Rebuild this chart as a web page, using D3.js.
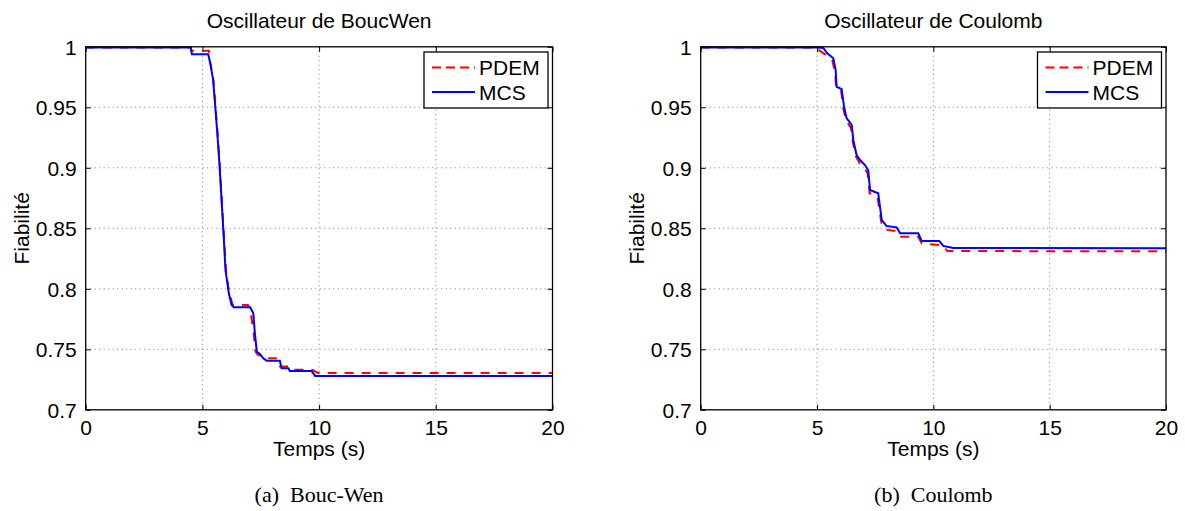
<!DOCTYPE html>
<html>
<head>
<meta charset="utf-8">
<script src="https://cdn.jsdelivr.net/npm/d3@7"></script>
<style>
  html, body { margin: 0; padding: 0; background: #fff; }
  svg { display: block; }
  text { font-family: "Liberation Sans", Arial, sans-serif; fill: #000; }
  .caption { font-family: "Liberation Serif", "Times New Roman", serif; }
</style>
</head>
<body>
<svg id="chart" width="1185" height="511"></svg>
<script>
// ---------------- data ----------------
const xTicks = [0, 5, 10, 15, 20];
const yTicks = [0.7, 0.75, 0.8, 0.85, 0.9, 0.95, 1];
const yTickLabels = ["0.7", "0.75", "0.8", "0.85", "0.9", "0.95", "1"];
const seriesNames = ["PDEM", "MCS"];
const panelTitles = ["Oscillateur de BoucWen", "Oscillateur de Coulomb"];
const panelCaptions = ["(a)\u2002Bouc-Wen", "(b)\u2002Coulomb"];
const xLabel = "Temps (s)";
const yLabel = "Fiabilité";

// Bouc-Wen : MCS
const bwMcsT = [0, 4.50, 4.55, 5.25, 5.35, 5.46, 5.63, 5.72, 5.89, 5.99, 6.13, 6.25, 6.35, 7.05, 7.18, 7.25, 7.33, 7.47, 7.61, 7.75, 8.32, 8.39, 8.68, 8.75, 9.68, 9.83, 20];
const bwMcsR = [0.9995, 0.9995, 0.9938, 0.9938, 0.985, 0.9726, 0.931, 0.9064, 0.851, 0.8155, 0.7965, 0.7866, 0.7847, 0.7847, 0.7797, 0.763, 0.748, 0.7461, 0.7426, 0.7406, 0.7406, 0.7343, 0.7343, 0.732, 0.732, 0.728, 0.728];
// Bouc-Wen : PDEM
const bwPdemT = [0, 4.50, 4.53, 5.28, 5.33, 5.47, 5.64, 5.73, 5.90, 6.01, 6.15, 6.30, 6.45, 6.95, 7.05, 7.20, 7.28, 7.35, 7.50, 7.72, 8.20, 8.33, 8.70, 8.80, 9.70, 9.95, 20];
const bwPdemR = [0.9995, 0.9995, 0.9967, 0.9967, 0.988, 0.9726, 0.931, 0.9064, 0.851, 0.8155, 0.7965, 0.7866, 0.7866, 0.7866, 0.7830, 0.763, 0.748, 0.746, 0.7445, 0.7426, 0.7426, 0.7357, 0.7357, 0.7331, 0.7331, 0.7305, 0.7305];

// Coulomb : MCS
const cMcsT = [0, 5.03, 5.27, 5.44, 5.70, 5.80, 5.84, 6.06, 6.16, 6.27, 6.49, 6.56, 6.70, 6.85, 7.06, 7.20, 7.28, 7.63, 7.78, 7.99, 8.42, 8.57, 9.35, 9.50, 10.25, 10.43, 10.85, 20];
const cMcsR = [0.9995, 0.9995, 0.9990, 0.9946, 0.9905, 0.981, 0.967, 0.965, 0.9505, 0.941, 0.9354, 0.923, 0.9106, 0.9064, 0.9023, 0.898, 0.8817, 0.8790, 0.857, 0.8519, 0.8508, 0.8459, 0.8459, 0.8395, 0.8395, 0.8354, 0.8337, 0.8335];
// Coulomb : PDEM
const cPdemT = [0, 5.00, 5.10, 5.40, 5.65, 5.78, 5.82, 6.04, 6.14, 6.25, 6.46, 6.54, 6.68, 6.83, 7.04, 7.18, 7.26, 7.60, 7.76, 7.95, 8.35, 8.50, 9.35, 9.50, 10.40, 10.60, 20];
const cPdemR = [0.9995, 0.9995, 0.997, 0.993, 0.989, 0.979, 0.965, 0.963, 0.948, 0.939, 0.933, 0.921, 0.909, 0.904, 0.900, 0.895, 0.879, 0.876, 0.855, 0.849, 0.8478, 0.843, 0.843, 0.8375, 0.836, 0.8312, 0.831];

// ---------------- drawing ----------------
const svg = d3.select("#chart");
const FONT = 21;

const panels = [
  { left: 85.7, right: 552.5, pdem: [bwPdemT, bwPdemR], mcs: [bwMcsT, bwMcsR] },
  { left: 700.7, right: 1166, pdem: [cPdemT, cPdemR], mcs: [cMcsT, cMcsR] }
];
const plotTop = 46.8, plotBottom = 409.8;

panels.forEach((p, i) => {
  const x = d3.scaleLinear().domain([0, 20]).range([p.left, p.right]);
  const y = d3.scaleLinear().domain([0.7, 1]).range([plotBottom, plotTop]);
  const g = svg.append("g");

  // grid
  g.append("g").selectAll("line").data(xTicks.slice(1, -1)).join("line")
    .attr("x1", d => x(d)).attr("x2", d => x(d)).attr("y1", plotTop).attr("y2", plotBottom)
    .attr("stroke", "#7a7a7a").attr("stroke-width", 1).attr("stroke-dasharray", "1,3.5");
  g.append("g").selectAll("line").data(yTicks.slice(1, -1)).join("line")
    .attr("y1", d => y(d)).attr("y2", d => y(d)).attr("x1", p.left).attr("x2", p.right)
    .attr("stroke", "#7a7a7a").attr("stroke-width", 1).attr("stroke-dasharray", "1,3.5");

  // axes with inward ticks (all four sides)
  const fmtY = (d) => yTickLabels[yTicks.indexOf(d)];
  const axB = g.append("g").attr("transform", `translate(0,${plotBottom})`)
    .call(d3.axisBottom(x).tickValues(xTicks).tickSizeInner(-5).tickSizeOuter(0).tickPadding(10));
  const axT = g.append("g").attr("transform", `translate(0,${plotTop})`)
    .call(d3.axisTop(x).tickValues(xTicks).tickSizeInner(-5).tickSizeOuter(0).tickFormat(""));
  const axL = g.append("g").attr("transform", `translate(${p.left},0)`)
    .call(d3.axisLeft(y).tickValues(yTicks).tickFormat(fmtY).tickSizeInner(-5).tickSizeOuter(0).tickPadding(9));
  const axR = g.append("g").attr("transform", `translate(${p.right},0)`)
    .call(d3.axisRight(y).tickValues(yTicks).tickSizeInner(-5).tickSizeOuter(0).tickFormat(""));
  [axB, axT, axL, axR].forEach(a => {
    a.select(".domain").remove();
    a.selectAll("line").attr("stroke", "#000").attr("stroke-width", 1);
    a.selectAll("text").attr("font-size", FONT).attr("font-family", "Liberation Sans, Arial, sans-serif").attr("fill", "#000");
  });
  axB.selectAll("text").attr("dy", "0.71em");
  axL.selectAll("text").attr("dy", "0.36em");

  // series
  const line = d3.line().x(d => x(d[0])).y(d => y(d[1]));
  const pdemPts = p.pdem[0].map((t, k) => [t, p.pdem[1][k]]);
  const mcsPts = p.mcs[0].map((t, k) => [t, p.mcs[1][k]]);
  g.append("path").datum(pdemPts).attr("d", line)
    .attr("fill", "none").attr("stroke", "#ff0000").attr("stroke-width", 2)
    .attr("stroke-dasharray", "9,8");
  g.append("path").datum(mcsPts).attr("d", line)
    .attr("fill", "none").attr("stroke", "#0000ff").attr("stroke-width", 2);

  // frame
  g.append("rect").attr("x", p.left).attr("y", plotTop)
    .attr("width", p.right - p.left).attr("height", plotBottom - plotTop)
    .attr("fill", "none").attr("stroke", "#000").attr("stroke-width", 1.3);

  // title
  const cx = (p.left + p.right) / 2;
  g.append("text").attr("x", cx).attr("y", 28).attr("text-anchor", "middle")
    .attr("font-size", FONT).text(panelTitles[i]);
  // axis labels
  g.append("text").attr("x", cx).attr("y", 456).attr("text-anchor", "middle")
    .attr("font-size", FONT).text(xLabel);
  g.append("text").attr("transform", `translate(${p.left - 57},${(plotTop + plotBottom) / 2}) rotate(-90)`)
    .attr("text-anchor", "middle").attr("font-size", FONT).text(yLabel);
  // caption
  g.append("text").attr("class", "caption").attr("x", cx).attr("y", 502)
    .attr("text-anchor", "middle").attr("font-size", 22).text(panelCaptions[i]);

  // legend
  const bx = p.right - 128.5, by = 52, bw = 124, bh = 56;
  const lg = g.append("g");
  lg.append("rect").attr("x", bx).attr("y", by).attr("width", bw).attr("height", bh)
    .attr("fill", "#fff").attr("stroke", "#000").attr("stroke-width", 1.3);
  const legendItems = [
    { name: seriesNames[0], color: "#ff0000", dash: "9,5" },
    { name: seriesNames[1], color: "#0000ff", dash: null }
  ];
  legendItems.forEach((it, k) => {
    const ly = by + 15.5 + k * 24.4;
    lg.append("line").attr("x1", bx + 8).attr("x2", bx + 51).attr("y1", ly).attr("y2", ly)
      .attr("stroke", it.color).attr("stroke-width", 2)
      .attr("stroke-dasharray", it.dash);
    lg.append("text").attr("x", bx + 55).attr("y", ly + 7.6).attr("font-size", FONT).text(it.name);
  });
});
</script>
</body>
</html>
